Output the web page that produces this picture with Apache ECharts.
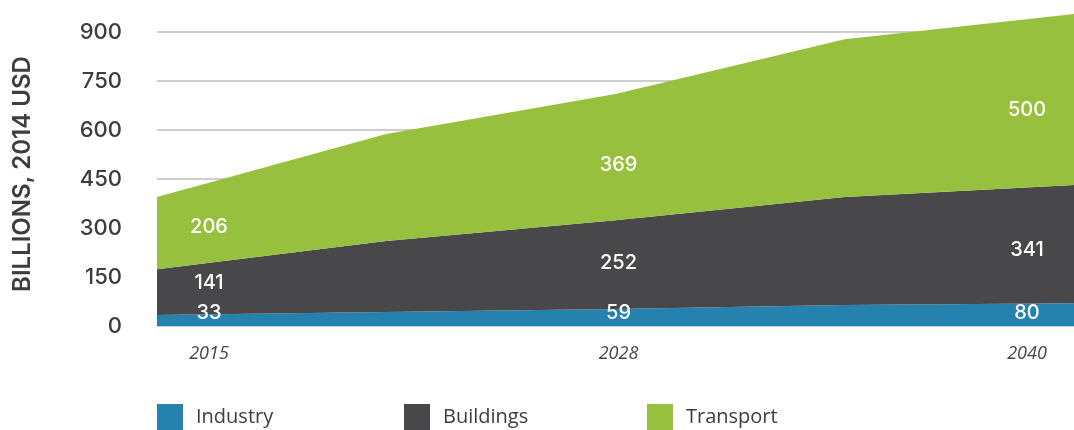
<!DOCTYPE html>
<html>
<head>
<meta charset="utf-8">
<script src="https://cdn.jsdelivr.net/npm/echarts@6/dist/echarts.min.js"></script>
<style>
  html, body { margin: 0; padding: 0; background: #fff; }
  #chart { width: 1074px; height: 430px; }
</style>
</head>
<body>
<div id="chart"></div>
<script>
// categories (only 2015 / 2028 / 2040 are labelled)
const years = ["2015", "2021", "2028", "2034", "2040"];

// stacked values as drawn
const industry = [34, 43, 52, 64, 70];
const buildings = [140, 217, 272, 331, 362];
const transport = [221, 328, 386, 483, 523];

// printed labels (null = no label)
const industryLabels = [33, null, 59, null, 80];
const buildingsLabels = [141, null, 252, null, 341];
const transportLabels = [206, null, 369, null, 500];

const yTicks = [0, 150, 300, 450, 600, 750, 900];
const legendNames = ["Industry", "Buildings", "Transport"];

const color = {
  industry: "#2581ad",
  buildings: "#48484a",
  transport: "#96c03d",
  text: "#3d3d3d",
  grid: "#bdbdbd",
};

// label offsets: x per category index, y per series
const labelDx = { 0: 52, 2: 3, 4: -47 };
const labelDy = {
  industry: { 0: -2, 2: 4, 4: 10 },
  buildings: { 0: 14, 2: 43, 4: 65 },
  transport: { 0: 30, 2: 71, 4: 96 },
};

function buildData(values, labels, key) {
  return values.map((v, i) => {
    if (labels[i] == null) return v;
    return {
      value: v,
      label: {
        show: true,
        formatter: String(labels[i]),
        offset: [labelDx[i], labelDy[key][i]],
      },
    };
  });
}

function makeSeries(name, key, values, labels) {
  return {
    name: name,
    type: "line",
    stack: "total",
    clip: false,
    data: buildData(values, labels, key),
    color: color[key],
    symbol: "circle",
    symbolSize: 0,
    showSymbol: true,
    lineStyle: { width: 0 },
    areaStyle: { color: color[key], opacity: 1 },
    label: {
      show: false,
      position: "inside",
      color: "#fff",
      fontFamily: "Inter",
      fontSize: 20,
      fontWeight: 500,
    },
    emphasis: { disabled: true },
  };
}

// one legend per item so they sit at fixed spacing
const legendLeft = [157, 404, 647];
const legends = legendNames.map((n, i) => ({
  left: legendLeft[i],
  top: 404,
  padding: 0,
  itemWidth: 26,
  itemHeight: 26,
  itemGap: 0,
  icon: "rect",
  selectedMode: false,
  textStyle: {
    color: color.text,
    fontFamily: "Open Sans",
    fontSize: 20,
    padding: [0, 0, 0, 8],
  },
  data: [n],
}));

const chart = echarts.init(document.getElementById("chart"), null, { renderer: "canvas" });

chart.setOption({
  animation: false,
  grid: { left: 157, right: 0, top: 32, bottom: 104 },
  legend: legends,
  xAxis: {
    type: "category",
    boundaryGap: false,
    data: years,
    axisLine: { show: false },
    axisTick: { show: false },
    axisLabel: {
      interval: 1,
      margin: 19,
      formatter: function (value, index) {
        if (index === 0) return "{l|" + value + "}";
        if (index === years.length - 1) return "{r|" + value + "}";
        return "{m|" + value + "}";
      },
      rich: {
        l: { fontFamily: "Open Sans", fontStyle: "italic", fontSize: 18, color: "#444", padding: [0, 0, 0, 104] },
        m: { fontFamily: "Open Sans", fontStyle: "italic", fontSize: 18, color: "#444", padding: [0, 0, 0, 6] },
        r: { fontFamily: "Open Sans", fontStyle: "italic", fontSize: 18, color: "#444", padding: [0, 94, 0, 0] },
      },
    },
  },
  yAxis: {
    type: "value",
    min: yTicks[0],
    max: yTicks[yTicks.length - 1],
    interval: yTicks[1] - yTicks[0],
    name: "BILLIONS, 2014 USD",
    nameLocation: "middle",
    nameGap: 122,
    nameTextStyle: {
      color: color.text,
      fontFamily: "Inter",
      fontSize: 24,
      fontWeight: 600,
      padding: [0, 0, 0, 10],
    },
    axisLine: { show: false },
    axisTick: { show: false },
    axisLabel: {
      margin: 35,
      color: color.text,
      fontFamily: "Inter",
      fontSize: 22,
      fontWeight: 500,
    },
    splitLine: { lineStyle: { color: color.grid, width: 1.5 } },
  },
  series: [
    makeSeries("Industry", "industry", industry, industryLabels),
    makeSeries("Buildings", "buildings", buildings, buildingsLabels),
    makeSeries("Transport", "transport", transport, transportLabels),
  ],
});
</script>
</body>
</html>
